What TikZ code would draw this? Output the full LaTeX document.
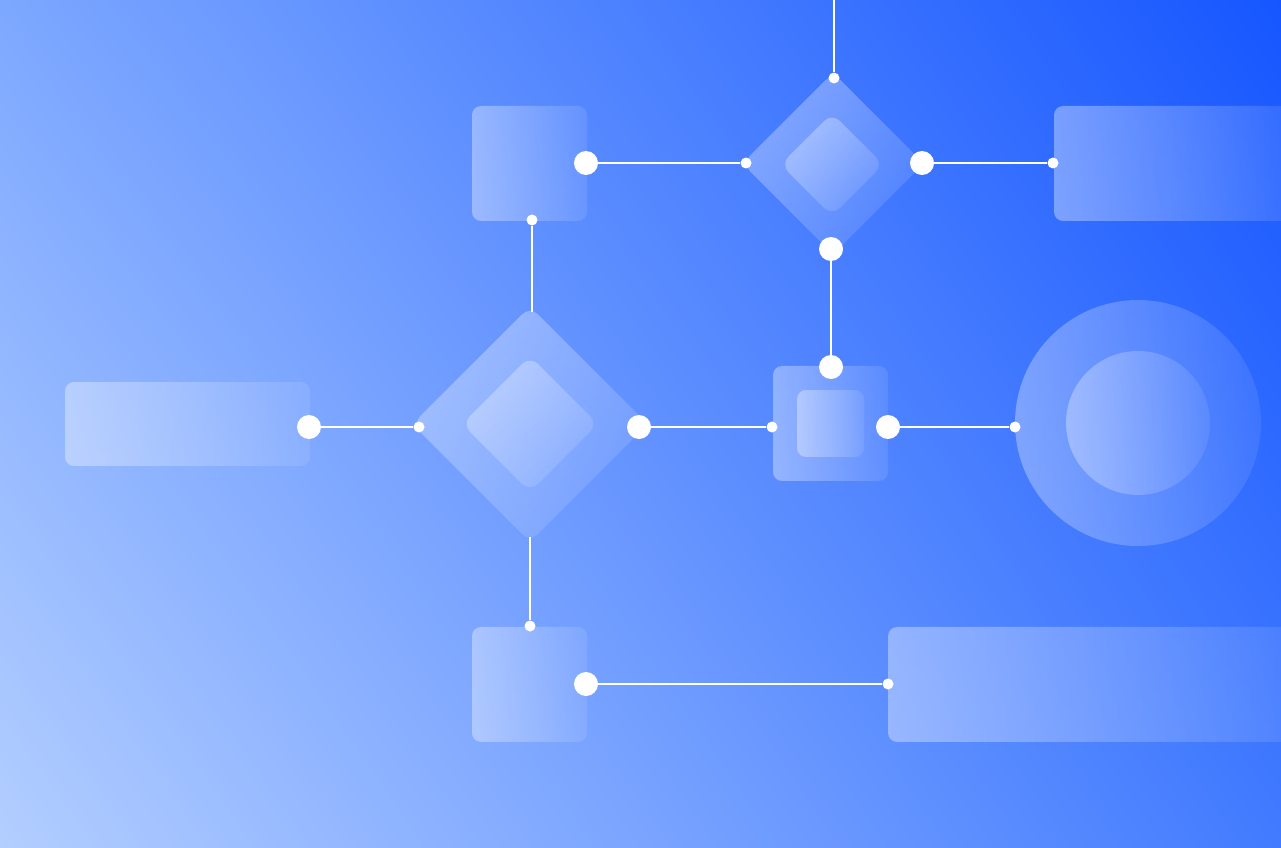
\documentclass[tikz,border=0pt]{standalone}
\usetikzlibrary{shapes.geometric,fadings,shadings}
\tikzfading[name=fadeR, left color=transparent!0, right color=transparent!75]
\tikzfading[name=fadeD, top color=transparent!0, bottom color=transparent!75]
\definecolor{bgUL}{HTML}{7DA8FF}
\definecolor{bgUR}{HTML}{1656FF}
\definecolor{bgLL}{HTML}{B3CEFF}
\definecolor{bgLR}{HTML}{427BFF}
\begin{document}
\begin{tikzpicture}[x=0.02cm,y=-0.02cm,
  panel/.style={rectangle, inner sep=0pt, draw=none, fill=white, fill opacity=0.36,
    path fading=fadeR, rounded corners=0.18cm},
  dia/.style={diamond, aspect=1, inner sep=0pt, draw=none, fill=white, fill opacity=0.34,
    path fading=fadeD, fading angle=45, rounded corners=0.22cm},
  disc/.style={circle, inner sep=0pt, draw=none, fill=white, fill opacity=0.32, path fading=fadeR},
  bigdot/.style={circle, fill=white, draw=none, inner sep=0pt, minimum size=0.48cm},
  smalldot/.style={circle, fill=white, draw=none, inner sep=0pt, minimum size=0.22cm},
  wire/.style={draw=white, line width=1.2pt}]
\useasboundingbox (0,0) rectangle (1281,848);
\clip (0,0) rectangle (1281,848);
\shade[upper left=bgUL, upper right=bgUR, lower left=bgLL, lower right=bgLR] (0,0) rectangle (1281,848);

% shapes
\node[panel, minimum width=2.3cm, minimum height=2.3cm] (boxTL) at (529.5,163.5) {};
\node[panel, minimum width=4.92cm, minimum height=2.3cm] (boxTR) at (1177,163.5) {};
\node[panel, minimum width=4.9cm, minimum height=1.68cm] (boxL) at (187.5,424) {};
\node[panel, minimum width=2.3cm, minimum height=2.3cm] (boxM) at (830.5,423.5) {};
\node[panel, minimum width=1.34cm, minimum height=1.34cm] (boxMi) at (830.5,423.5) {};
\node[panel, minimum width=2.3cm, minimum height=2.3cm] (boxB) at (529.5,684.5) {};
\node[panel, minimum width=8.24cm, minimum height=2.3cm] (boxBR) at (1094,684.5) {};
\node[disc, minimum size=4.92cm] (circO) at (1138,423) {};
\node[disc, minimum size=2.88cm] (circI) at (1138,423) {};
\node[dia, minimum width=4.72cm, minimum height=4.72cm] (diaB) at (530,424) {};
\node[dia, minimum width=2.72cm, minimum height=2.72cm] (diaBi) at (530,424) {};
\node[dia, minimum width=3.64cm, minimum height=3.64cm] (diaS) at (833,163.5) {};
\node[dia, minimum width=2.06cm, minimum height=2.06cm] (diaSi) at (832,164.5) {};

% connection points
\coordinate (top) at (834,-5);
\node[smalldot] (s1) at (834,78) {};
\node[bigdot] (b1) at (586,163) {};
\node[smalldot] (s2) at (746,163) {};
\node[bigdot] (b2) at (922,163) {};
\node[smalldot] (s3) at (1053,163) {};
\node[bigdot] (b3) at (831,249) {};
\node[bigdot] (b4) at (831,367) {};
\node[smalldot] (s4) at (532,220) {};
\coordinate (dtop) at (532,312);
\node[bigdot] (b5) at (309,427) {};
\node[smalldot] (s5) at (419,427) {};
\node[bigdot] (b6) at (639,427) {};
\node[smalldot] (s6) at (772,427) {};
\node[bigdot] (b7) at (888,427) {};
\node[smalldot] (s7) at (1015,427) {};
\coordinate (dbot) at (530,537);
\node[smalldot] (s8) at (530,626) {};
\node[bigdot] (b8) at (586,684) {};
\node[smalldot] (s9) at (888,684) {};

% connectors
\draw[wire] (top) -- (s1);
\draw[wire] (b1) -- (s2);
\draw[wire] (b2) -- (s3);
\draw[wire] (b3) -- (b4);
\draw[wire] (s4) -- (dtop);
\draw[wire] (b5) -- (s5);
\draw[wire] (b6) -- (s6);
\draw[wire] (b7) -- (s7);
\draw[wire] (dbot) -- (s8);
\draw[wire] (b8) -- (s9);
\end{tikzpicture}
\end{document}
